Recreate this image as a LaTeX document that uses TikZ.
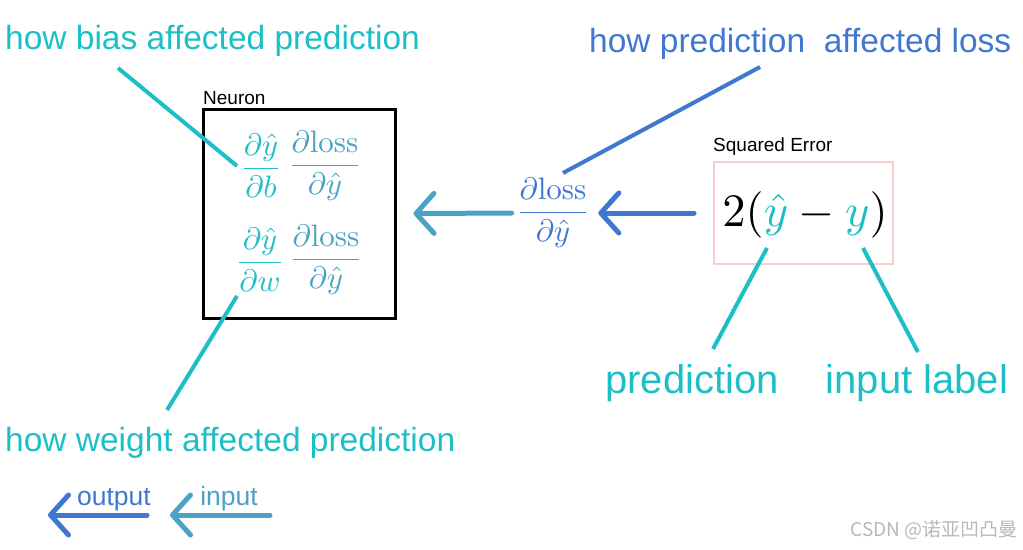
\documentclass[tikz,border=0pt]{standalone}
\usepackage[no-math]{fontspec}
\setmainfont{Liberation Sans}
\newfontfamily\cjkfont{Noto Sans CJK SC}
\usetikzlibrary{arrows.meta,positioning}

\definecolor{predcyan}{RGB}{29,191,198}
\definecolor{gradsteel}{RGB}{74,163,196}
\definecolor{lossblue}{RGB}{64,120,208}
\definecolor{errpink}{RGB}{250,205,205}

\newcommand{\fsz}[1]{\fontsize{#1}{1.2\dimexpr#1pt\relax}\selectfont}
\newcommand{\bigmath}[2]{\scalebox{#1}{$\displaystyle #2$}}
\newcommand{\pd}[2]{\frac{\partial #1}{\partial #2}}

\begin{document}
\begin{tikzpicture}[x=1pt,y=-1pt]
\tikzset{BigLabel/.style = {inner sep=0pt, font=\fsz{33.5}}}
\tikzset{HugeLabel/.style = {inner sep=0pt, font=\fsz{40}, predcyan}}
\tikzset{SmallLabel/.style = {inner sep=0pt, font=\fsz{19}}}
\tikzset{LegendLabel/.style = {inner sep=0pt, font=\fsz{26.5}}}
\tikzset{FracStyle/.style = {inner sep=0pt}}
\tikzset{LeaderStyle/.style = {line width=4pt}}
\tikzset{ArrowStyle/.style = {line width=5pt, line cap=round, line join=round,
  -{Straight Barb[length=18pt, width=40pt, line cap=round, line join=round]}}}
\useasboundingbox (0,0) rectangle (1023,549);
% neuron with the two chain rule products
\node[draw, line width=3pt, minimum width=192pt, minimum height=209pt] (neuron) at (299,213.5) {};
\node[SmallLabel, anchor=south west] (neuronlbl) at (203,105) {Neuron};
\node[FracStyle, predcyan] (dydb) at (261,166) {\bigmath{3.1}{\pd{\hat{y}}{b}}};
\node[FracStyle, gradsteel] (dldy1) at (325,166) {\bigmath{3.1}{\pd{\mathrm{loss}}{\hat{y}}}};
\node[FracStyle, predcyan] (dydw) at (260,260) {\bigmath{3.1}{\pd{\hat{y}}{w}}};
\node[FracStyle, gradsteel] (dldy2) at (326,260) {\bigmath{3.1}{\pd{\mathrm{loss}}{\hat{y}}}};
% gradient of the loss and the loss itself
\node[FracStyle, lossblue] (grad) at (553,213) {\bigmath{3.1}{\pd{\mathrm{loss}}{\hat{y}}}};
\node[draw=errpink, line width=2pt, minimum width=179pt, minimum height=102pt] (err) at (803.5,213) {};
\node[inner sep=0pt] (errtxt) at (805,215) {\bigmath{4.65}{2(\textcolor{predcyan}{\hat{y}}-\textcolor{predcyan}{y})}};
\node[SmallLabel, anchor=south west] (errlbl) at (713,156) {Squared Error};
% labels
\node[BigLabel, predcyan, anchor=west] (biaslbl) at (5,41) {how bias affected prediction};
\node[BigLabel, predcyan, anchor=west] (weightlbl) at (5,443) {how weight affected prediction};
\node[BigLabel, lossblue, anchor=west] (losslbl) at (589,44) {how prediction\ \ affected loss};
\node[HugeLabel] (predlbl) at (692,383) {prediction};
\node[HugeLabel] (inputlbl) at (917,383) {input label};
% leaders
\coordinate (b1) at (118,68);  \coordinate (b2) at (237,166);
\coordinate (w1) at (237,296); \coordinate (w2) at (167,410);
\coordinate (l1) at (760,67);  \coordinate (l2) at (563,173);
\coordinate (p1) at (767,248); \coordinate (p2) at (713,349);
\coordinate (i1) at (863,248); \coordinate (i2) at (918,352);
\draw[LeaderStyle, predcyan] (b1) -- (b2);
\draw[LeaderStyle, predcyan] (w1) -- (w2);
\draw[LeaderStyle, lossblue] (l1) -- (l2);
\draw[LeaderStyle, predcyan] (p1) -- (p2);
\draw[LeaderStyle, predcyan] (i1) -- (i2);
% backward arrows
\draw[ArrowStyle, gradsteel, shorten <=4pt] (grad.west) -- ([xshift=17pt]neuron.east);
\draw[ArrowStyle, lossblue, shorten <=19pt, shorten >=8pt] (err.west) -- (grad.east);
% legend
\coordinate (outs) at (147,515); \coordinate (oute) at (48,515);
\coordinate (ins) at (270,515);  \coordinate (ine) at (170,515);
\draw[ArrowStyle, lossblue] (outs) -- (oute);
\draw[ArrowStyle, gradsteel] (ins) -- (ine);
\node[LegendLabel, lossblue, anchor=base] (outlbl) at (114,505) {output};
\node[LegendLabel, gradsteel, anchor=base] (inlbl) at (229,505) {input};
\node[inner sep=0pt, font=\cjkfont\fsz{19}, black!28, anchor=east] (mark) at (1018,530) {CSDN @诺亚凹凸曼};
\end{tikzpicture}
\end{document}
